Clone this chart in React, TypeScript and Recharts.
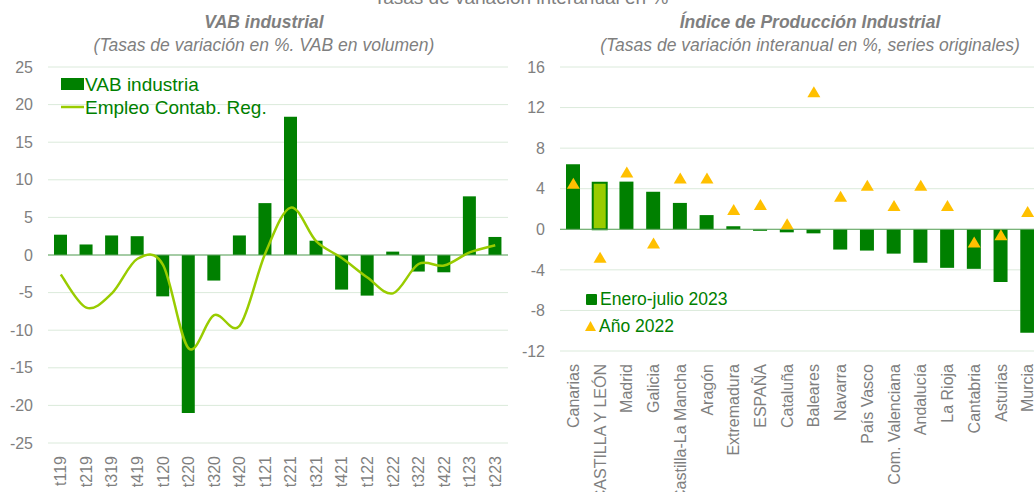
import { ComposedChart, Bar, Line, XAxis, YAxis, CartesianGrid, ReferenceLine, Cell } from 'recharts'

const FONT = '"Liberation Sans", Arial, sans-serif'
const GREEN = '#008000'
const LIGHT_GREEN = '#99cc00'
const AMBER = '#ffc000'
const GREY = '#7f7f7f'
const GRID_COLOR = '#dbeadb'
const ZERO_COLOR = '#5ea35e'

// VAB industrial (left)
const quarters = ['t119', 't219', 't319', 't419', 't120', 't220', 't320', 't420', 't121', 't221', 't321', 't421', 't122', 't222', 't322', 't422', 't123', 't223']
const vabIndustria = [2.7, 1.4, 2.6, 2.5, -5.5, -21.0, -3.4, 2.6, 6.9, 18.4, 1.9, -4.6, -5.4, 0.45, -2.2, -2.3, 7.8, 2.4]
const empleo = [-2.6, -7.0, -5.1, -0.5, -1.3, -12.4, -8.0, -9.4, 0.2, 6.3, 1.8, -0.4, -3.0, -5.1, -1.2, -1.4, 0.35, 1.3]
const leftTicks = [25, 20, 15, 10, 5, 0, -5, -10, -15, -20, -25]

// Índice de Producción Industrial (right)
const regiones = ['Canarias', 'CASTILLA Y LEÓN', 'Madrid', 'Galicia', 'Castilla-La Mancha', 'Aragón', 'Extremadura', 'ESPAÑA', 'Cataluña', 'Baleares', 'Navarra', 'País Vasco', 'Com. Valenciana', 'Andalucía', 'La Rioja', 'Cantabria', 'Asturias', 'Murcia']
const eneroJulio2023 = [6.4, 4.6, 4.7, 3.7, 2.6, 1.4, 0.3, -0.15, -0.3, -0.4, -2.0, -2.1, -2.4, -3.3, -3.8, -3.9, -5.2, -10.2]
const anio2022 = [4.5, -2.8, 5.6, -1.4, 5.0, 5.0, 1.9, 2.4, 0.5, 13.5, 3.2, 4.3, 2.3, 4.3, 2.3, -1.3, -0.6, 1.7]
const rightTicks = [16, 12, 8, 4, 0, -4, -8, -12]

const vabData = quarters.map((q, i) => ({ q, vab: vabIndustria[i], empleo: empleo[i] }))
const ipiData = regiones.map((r, i) => ({ r, ipi: eneroJulio2023[i], y22: anio2022[i] }))

const AXIS_TICK = { fontSize: 16, fill: GREY, fontFamily: FONT }

// Excel-style smoothed line (Catmull-Rom through the points)
function excelCurve(ctx: any) {
  let pts: number[][] = []
  return {
    areaStart() {},
    areaEnd() {},
    lineStart() { pts = [] },
    point(x: number, y: number) { pts.push([+x, +y]) },
    lineEnd() {
      if (!pts.length) return
      ctx.moveTo(pts[0][0], pts[0][1])
      for (let i = 0; i < pts.length - 1; i++) {
        const p0 = pts[i - 1] || pts[i]
        const p1 = pts[i]
        const p2 = pts[i + 1]
        const p3 = pts[i + 2] || p2
        ctx.bezierCurveTo(
          p1[0] + (p2[0] - p0[0]) / 6, p1[1] + (p2[1] - p0[1]) / 6,
          p2[0] - (p3[0] - p1[0]) / 6, p2[1] - (p3[1] - p1[1]) / 6,
          p2[0], p2[1],
        )
      }
    },
  }
}

function RotatedTick({ x, y, payload }: any) {
  return (
    <g transform={`translate(${x},${y})`}>
      <text transform="rotate(-90)" x={-11} dy="0.35em" textAnchor="end" fontSize={16} fill={GREY} fontFamily={FONT}>
        {payload.value}
      </text>
    </g>
  )
}

function Triangle({ cx, cy }: any) {
  if (cx == null || cy == null) return null
  return <polygon points={`${cx - 6.5},${cy + 5} ${cx + 6.5},${cy + 5} ${cx},${cy - 6}`} fill={AMBER} />
}

function Overlay() {
  const title = { fill: GREY, fontFamily: FONT, fontSize: 17.5, textAnchor: 'middle' as const }
  return (
    <svg width={1034} height={492} style={{ position: 'absolute', left: 0, top: 0, pointerEvents: 'none' }}>
      <text x={521} y={4} fill={GREY} fontFamily={FONT} fontSize={19} textAnchor="middle">Tasas de variación interanual en %</text>

      <text x={264} y={28} {...title} fontWeight="bold" fontStyle="italic">VAB industrial</text>
      <text x={264} y={51} {...title} fontStyle="italic">(Tasas de variación en %. VAB en volumen)</text>
      <text x={810} y={28} {...title} fontWeight="bold" fontStyle="italic">Índice de Producción Industrial</text>
      <text x={810} y={51} {...title} fontStyle="italic">(Tasas de variación interanual en %, series originales)</text>

      <rect x={61} y={78} width={23} height={12} fill={GREEN} />
      <text x={85} y={91} fill={GREEN} fontFamily={FONT} fontSize={19}>VAB industria</text>
      <line x1={61} x2={84} y1={107} y2={107} stroke={LIGHT_GREEN} strokeWidth={2.5} />
      <text x={85} y={114} fill={GREEN} fontFamily={FONT} fontSize={19}>Empleo Contab. Reg.</text>

      <rect x={586} y={294} width={11} height={11} rx={1} fill={GREEN} />
      <text x={600} y={304.5} fill={GREEN} fontFamily={FONT} fontSize={17.5}>Enero-julio 2023</text>
      <polygon points="585,331 596,331 590.5,321" fill={AMBER} />
      <text x={599} y={331.5} fill={GREEN} fontFamily={FONT} fontSize={17.5}>Año 2022</text>
    </svg>
  )
}

export default function App() {
  return (
    <div style={{ position: 'absolute', left: 0, top: 0, width: 1034, height: 492, overflow: 'hidden', background: '#fff', fontFamily: FONT }}>
      <div style={{ position: 'absolute', left: 0, top: 0 }}>
        <ComposedChart width={520} height={492} data={vabData} margin={{ top: 67, right: 12, bottom: 0, left: 0 }}>
          <CartesianGrid stroke={GRID_COLOR} vertical={false} />
          <XAxis dataKey="q" interval={0} height={49} axisLine={false} tickLine={false} tickSize={0} tick={<RotatedTick />} />
          <YAxis domain={[-25, 25]} ticks={leftTicks} width={48} axisLine={false} tickLine={false} tickSize={0} tickMargin={15} tick={AXIS_TICK} />
          <ReferenceLine y={0} stroke={ZERO_COLOR} strokeWidth={1} />
          <Bar dataKey="vab" fill={GREEN} barSize={13} isAnimationActive={false} />
          <Line dataKey="empleo" type={excelCurve as any} stroke={LIGHT_GREEN} strokeWidth={2.5} dot={false} isAnimationActive={false} />
        </ComposedChart>
      </div>
      <div style={{ position: 'absolute', left: 510, top: 0 }}>
        <ComposedChart width={531} height={492} data={ipiData} margin={{ top: 67, right: 0, bottom: 0, left: 0 }}>
          <CartesianGrid stroke={GRID_COLOR} vertical={false} />
          <XAxis dataKey="r" interval={0} height={141} axisLine={false} tickLine={false} tickSize={0} tick={<RotatedTick />} />
          <YAxis domain={[-12, 16]} ticks={rightTicks} width={50} axisLine={false} tickLine={false} tickSize={0} tickMargin={15} tick={AXIS_TICK} />
          <ReferenceLine y={0} stroke={ZERO_COLOR} strokeWidth={1} />
          <Bar dataKey="ipi" fill={GREEN} barSize={14} isAnimationActive={false}>
            {ipiData.map((d) => (
              <Cell key={d.r} fill={d.r === 'CASTILLA Y LEÓN' ? LIGHT_GREEN : GREEN} stroke={d.r === 'CASTILLA Y LEÓN' ? GREEN : 'none'} strokeWidth={2} />
            ))}
          </Bar>
          <Line dataKey="y22" stroke="none" dot={<Triangle />} activeDot={false} isAnimationActive={false} />
        </ComposedChart>
      </div>
      <Overlay />
    </div>
  )
}
